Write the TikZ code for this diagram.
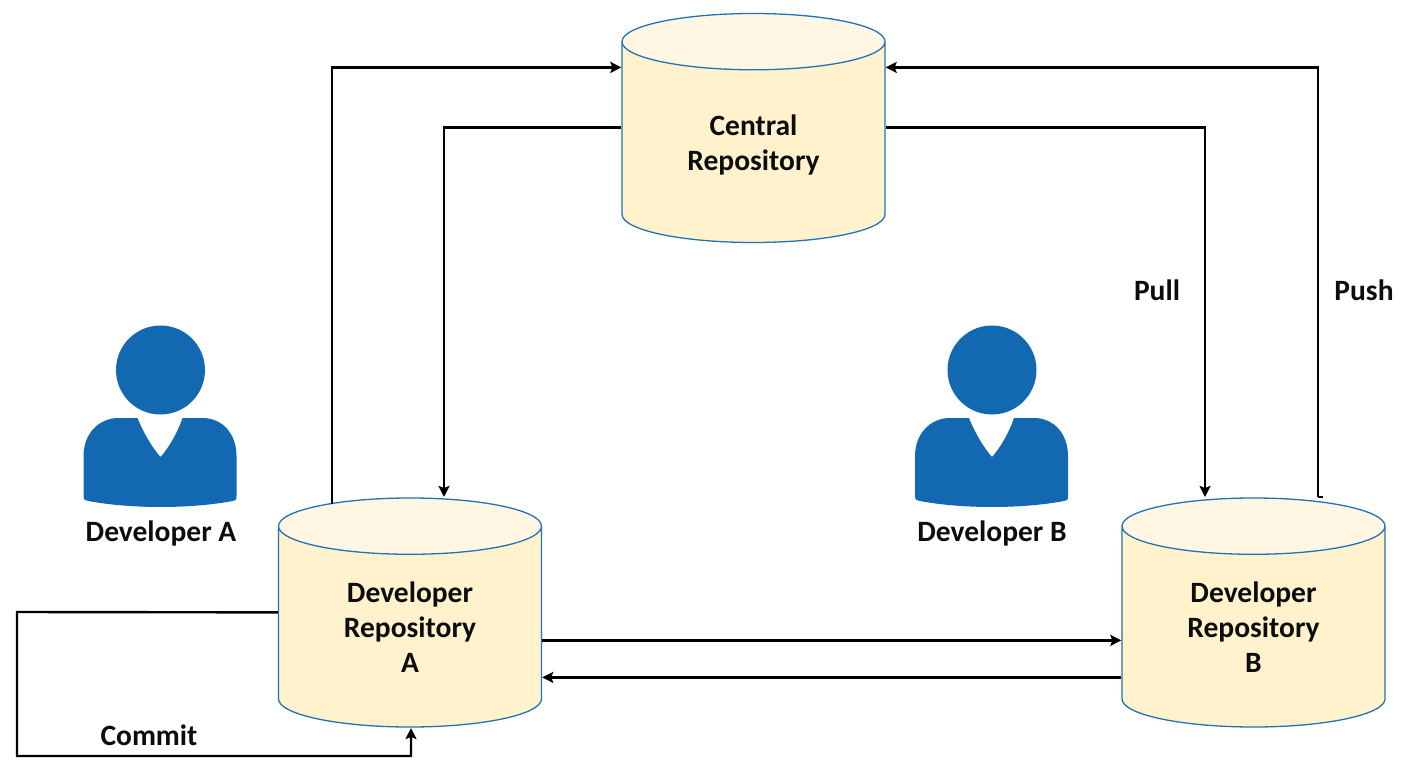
\documentclass[tikz,border=0pt]{standalone}
\usepackage{fontspec}
\setmainfont{Carlito}
\usetikzlibrary{shapes.geometric, calc, arrows.meta}
\definecolor{repofill}{HTML}{FFF2CC}
\definecolor{repotop}{HTML}{FFF7E4}
\definecolor{repoline}{HTML}{2272B5}
\definecolor{personblue}{HTML}{1269B2}

\begin{document}
\begin{tikzpicture}[x=1pt, y=-1pt,
            repo/.style={
                cylinder,
                shape border rotate=90,
                aspect=0.426,
                minimum width=263pt,
                minimum height=229pt,
                draw=repoline,
                line width=1.3pt,
                cylinder uses custom fill,
                cylinder body fill=repofill,
                cylinder end fill=repotop,
                inner sep=0pt,
                anchor=shape center,
                font=\bfseries\fontsize{29.5}{35}\selectfont,
                text=black!95,
                align=center
            },
            caption/.style={
                font=\bfseries\fontsize{29.5}{35}\selectfont,
                text=black!95,
                align=center,
                inner sep=0pt
            },
            conn/.style={
                line width=2.4pt,
                black,
                -{Stealth[length=11pt,width=11pt,inset=2pt]}
            },
            person/.pic={
                \fill[personblue] (0,-46) circle (44.5);
                \fill[personblue] (-23,2)
                    .. controls (-17,17) and (-8,32) .. (0,41)
                    .. controls (8,32) and (17,17) .. (22,2)
                    -- (42,2)
                    .. controls (62,2) and (76,18) .. (76,40)
                    -- (76,80)
                    .. controls (76,84) and (75,85) .. (72,85)
                    .. controls (30,93) and (-30,93) .. (-72,85)
                    .. controls (-75,85) and (-77,84) .. (-77,80)
                    -- (-77,40)
                    .. controls (-77,18) and (-62,2) .. (-42,2)
                    -- cycle;
            }]
            \useasboundingbox (0,0) rectangle (1406,770);

            \node[repo] (central) at (753.5,128) {\rule{0pt}{25.5pt}Central\\Repository};
            \node[repo] (repoA) at (410,612.5) {Developer\\Repository\\A};
            \node[repo] (repoB) at (1253.5,612.5) {Developer\\Repository\\B};

            \pic (devA) at (160.5,416) {person};
            \pic (devB) at (992,416) {person};
            \node[caption] (devAText) at (161,533) {Developer A};
            \node[caption] (devBText) at (992,533) {Developer B};

            % ends on the tops and sides of the cylinders
            \coordinate (pushA) at (332,504);
            \coordinate (pullA) at (444,497);
            \coordinate (pullB) at (1205,497);
            \coordinate (pushB) at (1318,497);
            \coordinate (commitEnd) at (411,728);
            \coordinate (commitCorner) at (17,612);

            \draw[conn] (pushA) |- ([yshift=75pt]central.west);
            \draw[conn] ([yshift=15pt]central.west) -| (pullA);
            \draw[conn] ([yshift=15pt]central.east) -| (pullB);
            \draw[conn] (pushB) |- ([yshift=75pt]central.east);
            \draw[line width=2.4pt] (pushB) -- ++(5,0);
            \draw[conn] ([yshift=-13.5pt]repoA.east) -- ([yshift=-13.5pt]repoB.west);
            \draw[conn] ([yshift=-50.5pt]repoB.west) -- ([yshift=-50.5pt]repoA.east);
            \draw[conn] ([yshift=14.5pt]repoA.west) -- (commitCorner) |- (411,756) -- (commitEnd);

            \node[caption] (pullText) at (1157,290) {Pull};
            \node[caption] (pushText) at (1364,290) {Push};
            \node[caption] (commitText) at (149,735) {Commit};
\end{tikzpicture}
\end{document}
